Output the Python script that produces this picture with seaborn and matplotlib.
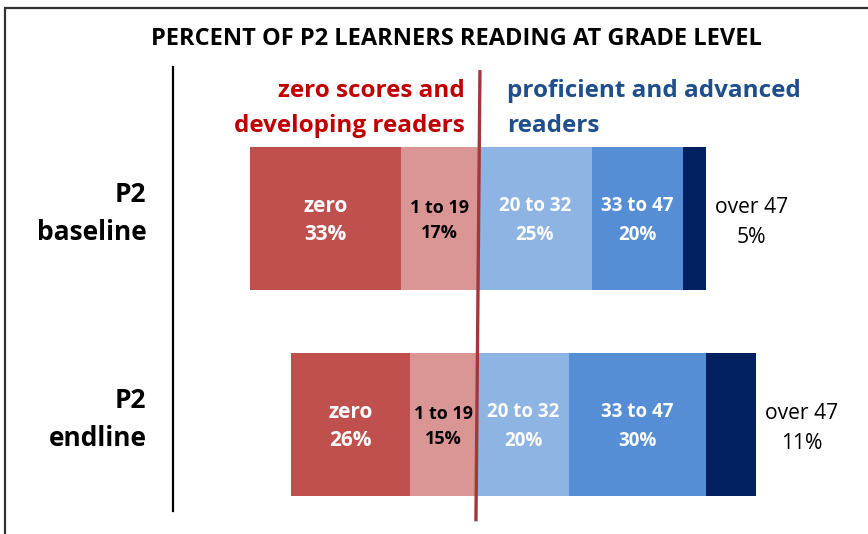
import numpy as np
import pandas as pd
import seaborn as sns
import matplotlib.pyplot as plt
from matplotlib.transforms import ScaledTranslation

groups = ['P2\nbaseline', 'P2\nendline']
cat_names = ['zero', '1 to 19', '20 to 32', '33 to 47', 'over 47']
zero = [33, 26]
low = [17, 15]
mid = [25, 20]
high = [20, 30]
top = [5, 11]
colors = ['#C0504D', '#D99694', '#8EB4E3', '#558ED5', '#002060']

sns.set_theme(style='white')
plt.rcParams['font.family'] = ['Open Sans', 'DejaVu Sans']
plt.rcParams['text.color'] = 'black'
plt.rcParams['ytick.color'] = 'black'

fig = plt.figure(figsize=(8.68, 5.34), dpi=100)
ax = fig.add_axes([173 / 868, 23 / 534, 1 - 173 / 868, 444 / 534])

df = pd.DataFrame({'group': groups, 'zero': zero, 'low': low,
                   'mid': mid, 'high': high, 'top': top})
# negative side: whole red part, then the light red part on top
df['neg_all'] = -(df['zero'] + df['low'])
df['neg_low'] = -df['low']
# positive side: cumulative ends, widest first
df['pos_all'] = df['mid'] + df['high'] + df['top']
df['pos_high'] = df['mid'] + df['high']
df['pos_mid'] = df['mid']

layers = [('neg_all', colors[0]), ('neg_low', colors[1]),
          ('pos_all', colors[4]), ('pos_high', colors[3]), ('pos_mid', colors[2])]
for col, c in layers:
    sns.barplot(data=df, x=col, y='group', orient='h', color=c, saturation=1,
                width=0.694, linewidth=0, ax=ax)

ax.set_xlim(-67.0, 85.7)
ax.set_ylim(1.42, -0.735)
ax.set_xlabel('')
ax.set_ylabel('')
ax.set_xticks([])
for s in ['top', 'right', 'bottom']:
    ax.spines[s].set_visible(False)
ax.spines['left'].set_color('black')
ax.spines['left'].set_linewidth(1.6)
ax.tick_params(axis='y', length=0, pad=19)
shift = ScaledTranslation(0, 13 / 100, fig.dpi_scale_trans)
for lab in ax.get_yticklabels():
    lab.set_fontweight('bold')
    lab.set_fontsize(19)
    lab.set_multialignment('right')
    lab.set_linespacing(1.5)
    lab.set_transform(lab.get_transform() + shift)

# segment labels
sizes = [15, 13, 13.5, 13.5]
spacing = [1.45, 1.53, 1.58, 1.58]
for i in range(len(groups)):
    starts = [-(zero[i] + low[i]), -low[i], 0, mid[i], mid[i] + high[i]]
    vals = [zero[i], low[i], mid[i], high[i], top[i]]
    for j in range(4):
        cx = starts[j] + vals[j] / 2
        tc = 'black' if j == 1 else 'white'
        ax.text(cx, i + 0.01, f'{cat_names[j]}\n{vals[j]}%', ha='center', va='center',
                color=tc, fontsize=sizes[j], fontweight='bold', linespacing=spacing[j])
    end = starts[4] + vals[4]
    ax.text(end + 2.0, i + 0.02, f'{cat_names[4]}\n{vals[4]}%', ha='left', va='center',
            multialignment='center', color='black', fontsize=15.2, linespacing=1.6)

# center divider
ax.plot([0.44, -0.44], [-0.72, 1.47], color='#A0393B', lw=2.4, clip_on=False,
        solid_capstyle='butt', zorder=5)

fig.text(0.526, 0.927, 'PERCENT OF P2 LEARNERS READING AT GRADE LEVEL',
         ha='center', va='center', fontsize=17, fontweight='bold')
fig.text(465 / 868, 0.797, 'zero scores and\ndeveloping readers', ha='right',
         va='center', color='#C00000', fontsize=17.5, fontweight='bold', linespacing=1.62)
fig.text(507 / 868, 0.797, 'proficient and advanced\nreaders', ha='left',
         va='center', color='#1F4E8C', fontsize=17.5, fontweight='bold', linespacing=1.62)

# outer frame (left and top edges visible)
frame = plt.Rectangle((5 / 868, -0.1), 1.2, 1 - 8 / 534 + 0.1, transform=fig.transFigure,
                      fill=False, edgecolor='#333333', lw=1.6)
fig.patches.append(frame)

fig.savefig('out.png', dpi=100)
